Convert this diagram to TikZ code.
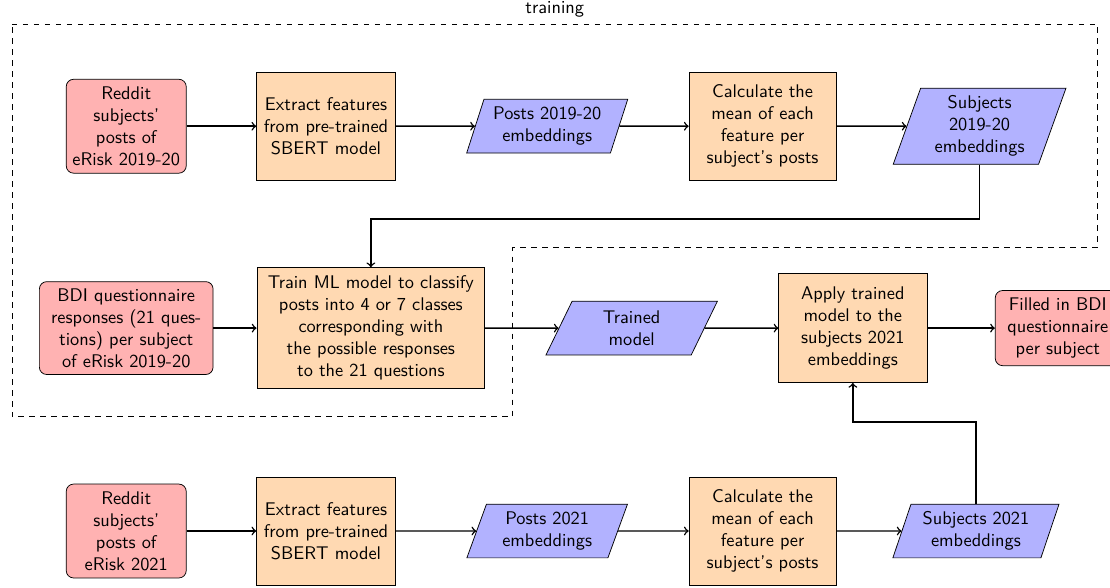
\documentclass[tikz,border=0pt]{standalone}
\usetikzlibrary{shapes.geometric}
\renewcommand{\familydefault}{\sfdefault}
\begin{document}
\begin{tikzpicture}[
    source/.style={draw,rounded corners,fill=red!30,align=center},
    process/.style={draw,fill=orange!30,align=center,minimum height=2.07cm},
    data/.style={draw,trapezium,trapezium left angle=72,trapezium right angle=108,
        trapezium stretches=true,fill=blue!30,align=center},
    arr/.style={thick,->}]
    \useasboundingbox (0,0) rectangle (21.28,-11.27);
    %% training region
    \draw[dashed] (0.23,-0.46) -- (21.04,-0.46) node[pos=0.5,anchor=south] {training}
        -- (21.04,-4.75) -- (9.83,-4.75) -- (9.83,-7.99) -- (0.23,-7.99) -- cycle;
    %% first row
    \node[source,minimum width=2.3cm,minimum height=1.8cm] (reddit1) at (2.42,-2.42) {Reddit\\subjects'\\posts of\\eRisk 2019-20};
    \node[process,minimum width=2.66cm] (extract1) at (6.25,-2.42) {Extract features\\from pre-trained\\SBERT model};
    \node[data,minimum width=3.1cm,minimum height=1.03cm] (posts1) at (10.49,-2.42) {Posts 2019-20\\embeddings};
    \node[process,minimum width=2.82cm] (calc1) at (14.62,-2.42) {Calculate the\\mean of each\\feature per\\subject's posts};
    \node[data,minimum width=3.33cm,minimum height=1.46cm] (subj1) at (18.78,-2.42) {Subjects\\2019-20\\embeddings};
    %% second row
    \node[source,minimum width=3.33cm,minimum height=1.78cm] (bdi) at (2.42,-6.29) {BDI questionnaire\\responses (21 ques-\\tions) per subject\\of eRisk 2019-20};
    \node[process,minimum width=4.37cm,minimum height=2.32cm] (train) at (7.11,-6.29) {Train ML model to classify\\posts into 4 or 7 classes\\corresponding with\\the possible responses\\to the 21 questions};
    \node[data,minimum width=3.3cm,minimum height=1.03cm] (trained) at (12.11,-6.29) {Trained\\model};
    \node[process,minimum width=2.84cm,minimum height=2.09cm] (apply) at (16.35,-6.29) {Apply trained\\model to the\\subjects 2021\\embeddings};
    \node[source,minimum width=2.4cm,minimum height=1.44cm] (filled) at (20.28,-6.29) {Filled in BDI\\questionnaire\\per subject};
    %% third row
    \node[source,minimum width=2.3cm,minimum height=1.8cm] (reddit2) at (2.42,-10.18) {Reddit\\subjects'\\posts of\\eRisk 2021};
    \node[process,minimum width=2.66cm] (extract2) at (6.25,-10.18) {Extract features\\from pre-trained\\SBERT model};
    \node[data,minimum width=3.1cm,minimum height=1.03cm] (posts2) at (10.49,-10.18) {Posts 2021\\embeddings};
    \node[process,minimum width=2.82cm] (calc2) at (14.62,-10.18) {Calculate the\\mean of each\\feature per\\subject's posts};
    \node[data,minimum width=3.2cm,minimum height=1.03cm] (subj2) at (18.71,-10.18) {Subjects 2021\\embeddings};
    %% arrows
    \draw[arr] (reddit1) -- (extract1);
    \draw[arr] (extract1) -- (posts1);
    \draw[arr] (posts1) -- (calc1);
    \draw[arr] (calc1) -- (subj1);
    \draw[arr] (subj1.south) -- ++(0,-1.04) -| (train.north);
    \draw[arr] (bdi) -- (train);
    \draw[arr] (train) -- (trained);
    \draw[arr] (trained) -- (apply);
    \draw[arr] (apply) -- (filled);
    \draw[arr] (reddit2) -- (extract2);
    \draw[arr] (extract2) -- (posts2);
    \draw[arr] (posts2) -- (calc2);
    \draw[arr] (calc2) -- (subj2);
    \draw[arr] (subj2.north) -- ++(0,1.57) -| (apply.south);
\end{tikzpicture}
\end{document}
